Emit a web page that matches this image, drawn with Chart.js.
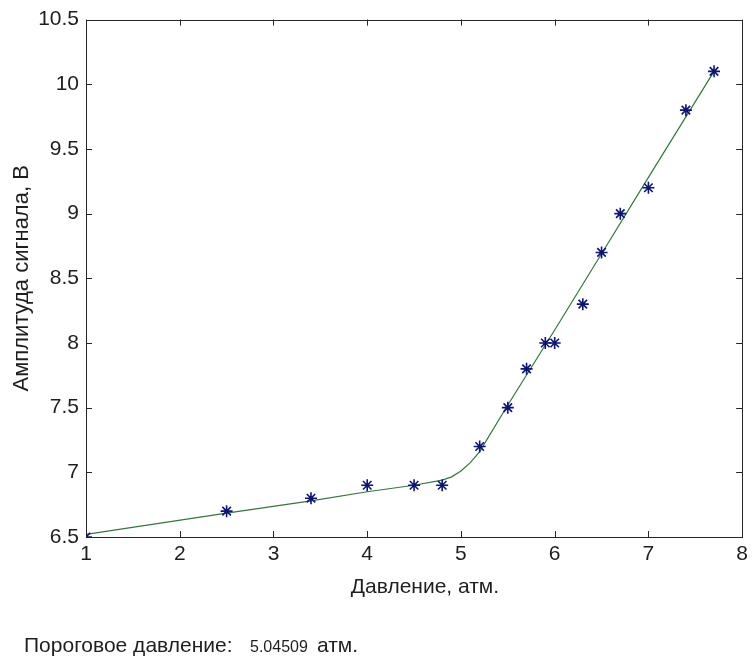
<!DOCTYPE html>
<html>
<head>
<meta charset="utf-8">
<script src="https://cdn.jsdelivr.net/npm/chart.js@4.4.1/dist/chart.umd.min.js"></script>
<style>
  html, body { margin: 0; padding: 0; background: #ffffff; }
  #wrap { position: relative; width: 753px; height: 659px; }
</style>
</head>
<body>
<div id="wrap"><canvas id="chart" width="753" height="659"></canvas></div>
<script>
// Measured signal amplitude vs. pressure
const pressure  = [1, 2.5, 3.4, 4, 4.5, 4.8, 5.2, 5.5, 5.7, 5.9, 6.0, 6.3, 6.5, 6.7, 7.0, 7.4, 7.7];
const amplitude = [6.5, 6.7, 6.8, 6.9, 6.9, 6.9, 7.2, 7.5, 7.8, 8.0, 8.0, 8.3, 8.7, 9.0, 9.2, 9.8, 10.1];

// Two-branch fitted curve (smooth knee near the threshold pressure)
const fitPressure  = [1, 2.5, 3.4, 4, 4.5, 4.8, 4.9, 5.0, 5.1, 5.2, 5.5, 6.0, 6.5, 7.0, 7.7];
const fitAmplitude = [6.52, 6.685, 6.78, 6.85, 6.90, 6.94, 6.965, 7.01, 7.075, 7.16, 7.52, 8.10, 8.69, 9.28, 10.10];

const xTicks = [1, 2, 3, 4, 5, 6, 7, 8];
const yTicks = [6.5, 7, 7.5, 8, 8.5, 9, 9.5, 10, 10.5];

const xTitle = 'Давление, атм.';
const yTitle = 'Амплитуда сигнала, В';
const thresholdLabel = 'Пороговое давление:';
const thresholdValue = '5.04509';
const thresholdUnit  = 'атм.';

const FONT = '"Liberation Sans", Arial, Helvetica, sans-serif';
const INK = '#1e1e1e';

const toPoints = (xs, ys) => xs.map((x, i) => ({ x: x, y: ys[i] }));

// Box around the axes with inward tick marks on all four sides
const boxPlugin = {
  id: 'boxAxes',
  afterDatasetsDraw(chart) {
    const { ctx, chartArea: a, scales } = chart;
    const len = 6;
    ctx.save();
    ctx.strokeStyle = '#262626';
    ctx.lineWidth = 1;
    ctx.beginPath();
    xTicks.forEach(v => {
      const px = Math.round(scales.x.getPixelForValue(v)) + 0.5;
      ctx.moveTo(px, a.bottom); ctx.lineTo(px, a.bottom - len);
      ctx.moveTo(px, a.top);    ctx.lineTo(px, a.top + len);
    });
    yTicks.forEach(v => {
      const py = Math.round(scales.y.getPixelForValue(v)) + 0.5;
      ctx.moveTo(a.left, py);  ctx.lineTo(a.left + len, py);
      ctx.moveTo(a.right, py); ctx.lineTo(a.right - len, py);
    });
    ctx.stroke();
    ctx.strokeRect(Math.round(a.left) + 0.5, Math.round(a.top) + 0.5,
                   Math.round(a.right - a.left), Math.round(a.bottom - a.top));
    ctx.restore();
  }
};

// x-axis caption and the threshold note under the plot
const textPlugin = {
  id: 'captions',
  afterDraw(chart) {
    const ctx = chart.ctx;
    ctx.save();
    ctx.fillStyle = INK;
    ctx.textBaseline = 'alphabetic';

    ctx.textAlign = 'center';
    ctx.font = '21px ' + FONT;
    ctx.fillText(xTitle, 425, 593);

    const baseY = 652;
    ctx.textAlign = 'left';
    ctx.font = '21px ' + FONT;
    ctx.fillText(thresholdLabel, 24, baseY);
    ctx.font = '16px ' + FONT;
    ctx.fillText(thresholdValue, 250, baseY);
    ctx.font = '21px ' + FONT;
    ctx.fillText(thresholdUnit, 317, baseY);
    ctx.restore();
  }
};

new Chart(document.getElementById('chart'), {
  type: 'scatter',
  data: {
    datasets: [
      {
        label: 'data',
        data: toPoints(pressure, amplitude),
        showLine: false,
        pointStyle: 'star',
        pointRadius: 6,
        pointBorderWidth: 1.6,
        pointBorderColor: '#0c1478',
        pointBackgroundColor: '#0c1478',
        order: 0
      },
      {
        label: 'fit',
        data: toPoints(fitPressure, fitAmplitude),
        showLine: true,
        pointRadius: 0,
        borderColor: '#2f7a3a',
        borderWidth: 1.2,
        tension: 0,
        fill: false,
        order: 1
      }
    ]
  },
  options: {
    responsive: false,
    animation: false,
    layout: { padding: { left: 0, right: 7, top: 19, bottom: 52 } },
    plugins: {
      legend: { display: false },
      tooltip: { enabled: false }
    },
    scales: {
      x: {
        type: 'linear',
        min: 1, max: 8,
        afterBuildTicks(scale) { scale.ticks = xTicks.map(v => ({ value: v })); },
        afterFit(scale) { scale.height = 70; },
        grid: { display: false, drawTicks: false },
        border: { display: false },
        ticks: {
          padding: 5,
          color: INK,
          font: { family: FONT, size: 21 },
          maxRotation: 0,
          callback: v => String(v)
        },
        title: { display: false }
      },
      y: {
        type: 'linear',
        min: 6.5, max: 10.5,
        afterBuildTicks(scale) { scale.ticks = yTicks.map(v => ({ value: v })); },
        afterFit(scale) { scale.width = 86; },
        grid: { display: false, drawTicks: false },
        border: { display: false },
        ticks: {
          padding: 7,
          color: INK,
          font: { family: FONT, size: 21 },
          callback: v => String(v)
        },
        title: {
          display: true,
          text: yTitle,
          color: INK,
          font: { family: FONT, size: 22 },
          padding: { top: 9, bottom: 0 }
        }
      }
    }
  },
  plugins: [boxPlugin, textPlugin]
});
</script>
</body>
</html>
